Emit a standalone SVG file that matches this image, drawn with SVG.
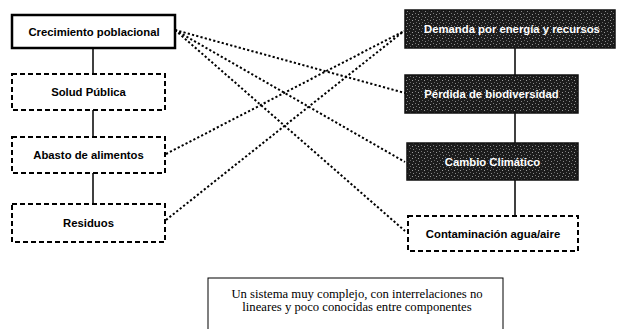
<svg xmlns="http://www.w3.org/2000/svg" width="622" height="329" viewBox="0 0 622 329">
<style>
.lbl{font-family:"Liberation Sans",Arial,sans-serif;font-weight:bold;font-size:11.3px;text-anchor:middle}
.dk{fill:#ffffff}
.solid{fill:#fff;stroke:#000;stroke-width:2.5}
.dash{fill:#fff;stroke:#000;stroke-width:2;stroke-dasharray:5 3}
.dark{fill:url(#noise);stroke:#111;stroke-width:1.5}
.tree{stroke:#000;stroke-width:1.5;fill:none}
.dot{stroke:#000;stroke-width:2;stroke-dasharray:2.2 2.2;fill:none}
.note{font-family:"Liberation Serif","Times New Roman",serif;font-size:12.7px;text-anchor:middle}
</style>
<defs>
<pattern id="noise" width="6" height="6" patternUnits="userSpaceOnUse">
<rect width="6" height="6" fill="#1c1c1c"/>
<rect x="1" y="1" width="1" height="1" fill="#777"/>
<rect x="4" y="2" width="1" height="1" fill="#999"/>
<rect x="2" y="4" width="1" height="1" fill="#666"/>
<rect x="5" y="5" width="1" height="1" fill="#888"/>
</pattern>
</defs>
<rect width="622" height="329" fill="#fff"/>
<g id="connectors">
<line class="tree" x1="93" y1="48" x2="93" y2="74"/>
<line class="tree" x1="93" y1="110" x2="93" y2="137"/>
<line class="tree" x1="93" y1="173" x2="93" y2="203"/>
<line class="tree" x1="515" y1="48" x2="515" y2="75"/>
<line class="tree" x1="515" y1="113" x2="515" y2="143"/>
<line class="tree" x1="515" y1="180" x2="515" y2="216"/>
<line class="dot" x1="175" y1="30" x2="405" y2="93"/>
<line class="dot" x1="175" y1="30" x2="405" y2="162"/>
<line class="dot" x1="175" y1="30" x2="405" y2="231"/>
<line class="dot" x1="166" y1="154" x2="404" y2="31"/>
<line class="dot" x1="166" y1="220" x2="404" y2="31"/>
</g>
<g id="n-crecimiento">
<rect class="solid" x="12" y="15" width="163" height="33"/>
<text class="lbl" x="94" y="35.5">Crecimiento poblacional</text>
</g>
<g id="n-salud">
<rect class="dash" x="12" y="74" width="153" height="36"/>
<text class="lbl" x="88.5" y="96">Solud Pública</text>
</g>
<g id="n-abasto">
<rect class="dash" x="12" y="137" width="153" height="36"/>
<text class="lbl" x="88.5" y="159">Abasto de alimentos</text>
</g>
<g id="n-residuos">
<rect class="dash" x="12" y="204" width="153" height="38"/>
<text class="lbl" x="88.5" y="227">Residuos</text>
</g>
<g id="n-demanda">
<rect class="dark" x="405" y="10" width="210" height="38"/>
<text class="lbl dk" x="512" y="33">Demanda por energía y recursos</text>
</g>
<g id="n-perdida">
<rect class="dark" x="405" y="75" width="173" height="38"/>
<text class="lbl dk" x="491.5" y="98">Pérdida de biodiversidad</text>
</g>
<g id="n-cambio">
<rect class="dark" x="407" y="143" width="171" height="37"/>
<text class="lbl dk" x="492.5" y="165.5">Cambio Climático</text>
</g>
<g id="n-contaminacion">
<rect class="dash" x="408" y="216" width="170" height="35"/>
<text class="lbl" x="493" y="238">Contaminación agua/aire</text>
</g>
<g id="n-nota">
<rect x="208" y="278" width="295" height="60" fill="#fff" stroke="#000" stroke-width="1"/>
<text class="note" x="357" y="298">Un sistema muy complejo, con interrelaciones no</text>
<text class="note" x="357" y="311">lineares y poco conocidas entre componentes</text>
</g>
</svg>
